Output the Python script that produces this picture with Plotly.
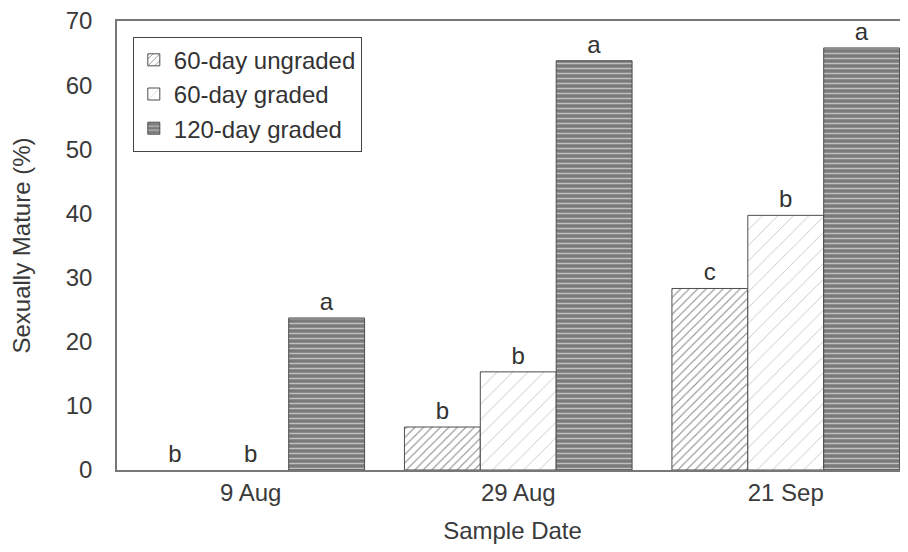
import plotly.graph_objects as go

categories = ["9 Aug", "29 Aug", "21 Sep"]
series_names = ["60-day ungraded", "60-day graded", "120-day graded"]
ungraded_60 = [0.0, 6.7, 28.3]
graded_60 = [0.0, 15.3, 39.7]
graded_120 = [23.7, 63.8, 65.8]
letters_ungraded_60 = ["b", "b", "c"]
letters_graded_60 = ["b", "b", "b"]
letters_graded_120 = ["a", "a", "a"]
y_ticks = [0, 10, 20, 30, 40, 50, 60, 70]

FONT = "Liberation Sans, Arial, sans-serif"
x_pos = list(range(len(categories)))

styles = [
    dict(bg="white", fg="#8a8a8a", shape="/", size=6, solidity=0.18),
    dict(bg="white", fg="#c4c4c4", shape="/", size=11, solidity=0.08),
    dict(bg="#7a7a7a", fg="#c0c0c0", shape="-", size=5, solidity=0.3),
]
values = [ungraded_60, graded_60, graded_120]
letters = [letters_ungraded_60, letters_graded_60, letters_graded_120]

fig = go.Figure()
for name, vals, lab, st in zip(series_names, values, letters, styles):
    # non-zero bars first so the legend swatch takes an outlined bar's style
    order = sorted(range(len(vals)), key=lambda i: vals[i] == 0)
    fig.add_trace(go.Bar(
        x=[x_pos[i] for i in order], y=[vals[i] for i in order], name=name,
        text=[lab[i] for i in order], textposition="outside", cliponaxis=False,
        constraintext="none",
        textfont=dict(family=FONT, size=24, color="#333333"),
        marker=dict(
            color=st["bg"],
            line=dict(color="#4d4d4d", width=[1 if vals[i] > 0 else 0 for i in order]),
            pattern=dict(shape=st["shape"], fgcolor=st["fg"], bgcolor=st["bg"],
                         size=st["size"], solidity=st["solidity"], fillmode="replace"),
        ),
    ))

# the page body adds an 8px offset; size/margins compensate for it
fig.update_layout(
    width=900, height=544,
    margin=dict(l=109, r=0, t=13, b=82),
    paper_bgcolor="white", plot_bgcolor="white",
    barmode="group", bargap=0.149, bargroupgap=0,
    font=dict(family=FONT, size=24, color="#3a3a3a"),
    showlegend=True,
    legend=dict(
        x=0.02, y=0.965, xanchor="left", yanchor="top",
        bgcolor="white", bordercolor="#444444", borderwidth=1,
        font=dict(family=FONT, size=24, color="#333333"),
        itemwidth=30, tracegroupgap=0,
    ),
    xaxis=dict(
        range=[-0.5, 2.457], tickmode="array", tickvals=x_pos, ticktext=categories,
        showline=True, linecolor="#777777", linewidth=1.5, mirror=True,
        ticks="", showgrid=False, zeroline=False, automargin=False,
        ticklabeloverflow="allow",
        tickfont=dict(family=FONT, size=24, color="#3a3a3a"),
        title=dict(text="Sample Date", font=dict(family=FONT, size=24, color="#3a3a3a"), standoff=18),
    ),
    yaxis=dict(
        range=[0, 70], tickmode="array", tickvals=y_ticks,
        showline=True, linecolor="#777777", linewidth=1.5,
        ticks="", showgrid=False, zeroline=False, automargin=False,
        ticklabeloverflow="allow",
        tickfont=dict(family=FONT, size=24, color="#3a3a3a"),
        ticklabelstandoff=18,
        title=dict(text="Sexually Mature (%)", font=dict(family=FONT, size=24, color="#3a3a3a"), standoff=38),
    ),
)

fig.write_html("out.html")
